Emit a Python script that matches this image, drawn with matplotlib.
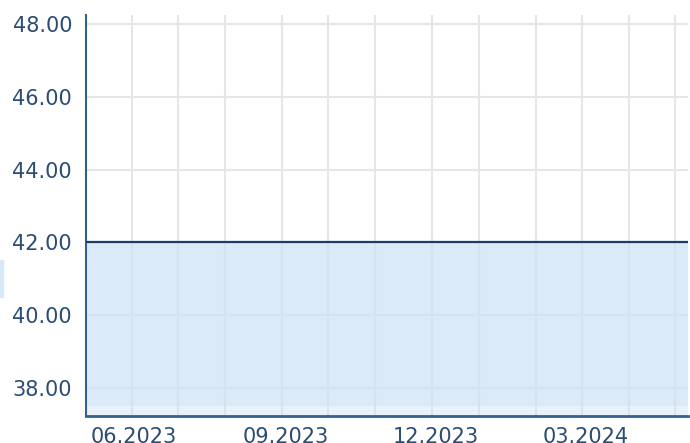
"""
Flat price line at 42.00 with light area fill, May 2023 - May 2024.
"""

import numpy as np
import pandas as pd
import matplotlib
matplotlib.use("Agg")
import matplotlib.pyplot as plt
import matplotlib.dates as mdates
from matplotlib.patches import Rectangle

# series
dates = ["2023-05-03", "2024-05-02"]
values = [42.0, 42.0]

# axes ranges / ticks
x_range = ["2023-05-03", "2024-05-02"]
y_range = [37.23, 48.25]
y_ticks = [38, 40, 42, 44, 46, 48]
x_label_dates = ["2023-06-01", "2023-09-01", "2023-12-01", "2024-03-01"]
x_grid_dates = ["2023-05-31", "2023-06-28", "2023-07-26", "2023-08-30",
                "2023-09-27", "2023-10-25", "2023-11-29", "2023-12-27",
                "2024-01-31", "2024-02-28", "2024-03-27", "2024-04-24"]
band_top = 37.5

TEXT = "#2b4c73"
LINE = "#1d3b66"
AXIS = "#34608e"
GRID = "#e6e6e6"
FILL = "#cfe3f7"


def main() -> None:
    W, H = 690, 443
    fig = plt.figure(figsize=(W / 100, H / 100), dpi=100)
    ax = fig.add_axes([86 / W, (H - 416) / H, (688 - 86) / W, (416 - 15) / H])

    x = pd.to_datetime(dates)
    y = np.array(values)

    ax.set_xlim(pd.to_datetime(x_range[0]), pd.to_datetime(x_range[1]))
    ax.set_ylim(*y_range)

    # grid
    ax.set_yticks(y_ticks)
    ax.yaxis.set_major_formatter(matplotlib.ticker.FormatStrFormatter("%.2f"))
    ax.set_xticks(pd.to_datetime(x_label_dates))
    ax.xaxis.set_major_formatter(mdates.DateFormatter("%m.%Y"))
    ax.set_xticks(pd.to_datetime(x_grid_dates), minor=True)
    ax.grid(True, axis="y", which="major", color=GRID, linewidth=1.5)
    ax.grid(True, axis="x", which="minor", color=GRID, linewidth=1.5)
    ax.grid(False, axis="x", which="major")
    ax.set_axisbelow(True)

    # area + line
    ax.fill_between(x, band_top, y, color=FILL, alpha=0.75, linewidth=0, zorder=2)
    ax.fill_between(x, y_range[0], band_top, color=FILL, alpha=0.45, linewidth=0, zorder=2)
    ax.plot(x, y, color=LINE, linewidth=1.6, zorder=3)

    for s in ("top", "right"):
        ax.spines[s].set_visible(False)
    ax.spines["left"].set_color(AXIS)
    ax.spines["left"].set_linewidth(1.5)
    ax.spines["bottom"].set_color(AXIS)
    ax.spines["bottom"].set_linewidth(2)

    ax.tick_params(axis="both", which="both", length=0)
    ax.tick_params(axis="y", labelsize=15, labelcolor=TEXT, pad=10)
    ax.tick_params(axis="x", labelsize=15, labelcolor=TEXT, pad=8)

    # small cut-off legend swatch at the left edge
    fig.patches.append(Rectangle((0, (H - 297) / H), 3 / W, 37 / H,
                                 transform=fig.transFigure, color="#d6e9f8"))

    fig.savefig("out.png", dpi=100)


if __name__ == "__main__":
    main()
